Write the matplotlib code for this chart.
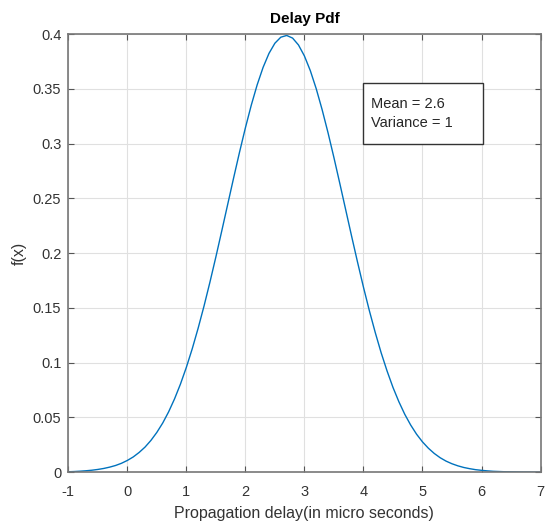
import numpy as np
import matplotlib
matplotlib.use("Agg")
import matplotlib.pyplot as plt
from matplotlib.patches import Rectangle

plt.rcParams['font.family'] = ['Liberation Sans', 'DejaVu Sans']
plt.rcParams['axes.unicode_minus'] = False

# delay values (micro seconds) and pdf, every 0.1
delay = [round(-1.0 + 0.1 * i, 1) for i in range(81)]
pdf = [0.0004, 0.0006, 0.0009, 0.0013, 0.0018, 0.0025, 0.0034, 0.0046, 0.0061, 0.0081,
       0.0107, 0.0139, 0.0180, 0.0229, 0.0290, 0.0363, 0.0449, 0.0551, 0.0669, 0.0804,
       0.0957, 0.1127, 0.1315, 0.1518, 0.1736, 0.1965, 0.2203, 0.2444, 0.2685, 0.2920,
       0.3144, 0.3352, 0.3538, 0.3697, 0.3825, 0.3918, 0.3973, 0.3989, 0.3965, 0.3902,
       0.3802, 0.3668, 0.3503, 0.3312, 0.3101, 0.2874, 0.2637, 0.2396, 0.2155, 0.1919,
       0.1691, 0.1476, 0.1276, 0.1091, 0.0925, 0.0775, 0.0644, 0.0529, 0.0431, 0.0347,
       0.0277, 0.0219, 0.0171, 0.0132, 0.0101, 0.0077, 0.0058, 0.0043, 0.0032, 0.0023,
       0.0017, 0.0012, 0.0008, 0.0006, 0.0004, 0.0003, 0.0002, 0.0001, 0.0001, 0.0000,
       0.0000]

x_ticks = [-1, 0, 1, 2, 3, 4, 5, 6, 7]
y_ticks = [0, 0.05, 0.1, 0.15, 0.2, 0.25, 0.3, 0.35, 0.4]
y_labels = ['0', '0.05', '0.1', '0.15', '0.2', '0.25', '0.3', '0.35', '0.4']
info = ['Mean = 2.6', 'Variance = 1']

fig = plt.figure(figsize=(5.46, 5.27), dpi=100)
ax = fig.add_axes([0.125, 0.104, 0.865, 0.831])

ax.plot(delay, pdf, color='#0072BD', lw=1.0)

ax.set_xlim(-1, 7)
ax.set_ylim(0, 0.4)
ax.set_xticks(x_ticks)
ax.set_yticks(y_ticks)
ax.set_yticklabels(y_labels)
ax.grid(True, color='#e0e0e0', lw=0.8)
ax.set_axisbelow(True)
ax.tick_params(direction='in', top=True, right=True, length=4,
               color='#555555', labelsize=10.5, labelcolor='#333333')
ax.tick_params(axis='x', pad=9)
ax.tick_params(axis='y', pad=5)
for sp in ax.spines.values():
    sp.set_color('#777777')
    sp.set_linewidth(1.2)

ax.set_title('Delay Pdf', fontsize=11, fontweight='bold', pad=8)
ax.set_xlabel('Propagation delay(in micro seconds)', fontsize=11.5, color='#333333', labelpad=5)
ax.set_ylabel('f(x)', fontsize=11.5, color='#333333', labelpad=4)

# legend-like text box
ax.add_patch(Rectangle((4.0, 0.2998), 2.03, 0.0555, fill=True, facecolor='white',
                       edgecolor='#333333', lw=1.0, zorder=3))
ax.text(4.12, 0.3275, '\n'.join(info), fontsize=10.5, va='center', ha='left',
        color='#262626', linespacing=1.4, zorder=4)

fig.savefig('out.png', dpi=100)
